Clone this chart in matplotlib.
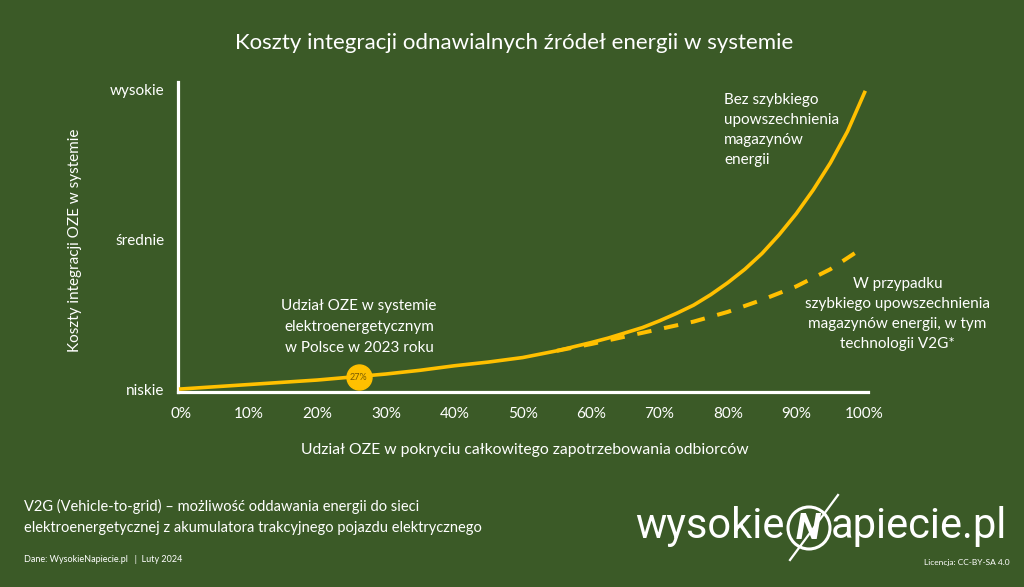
import matplotlib
matplotlib.use("Agg")
import matplotlib.pyplot as plt
from matplotlib.patches import Ellipse
from matplotlib.lines import Line2D

BG = "#3B5A27"
GOLD = "#FFC000"
plt.rcParams["font.family"] = ["Lato", "DejaVu Sans"]

# udział OZE (%) i względny koszt integracji (0 = niskie, 1 = średnie, 2 = wysokie)
share = [0, 5, 10, 15, 20, 25, 30, 35, 40, 45, 50, 55, 60, 62.5, 65, 67.5, 70, 72.5,
         75, 77.5, 80, 82.5, 85, 87.5, 90, 92.5, 95, 97.5, 100]
cost_no_storage = [0, 0.015, 0.03, 0.045, 0.06, 0.08, 0.10, 0.125, 0.155, 0.18, 0.21,
                   0.255, 0.31, 0.34, 0.375, 0.41, 0.455, 0.505, 0.56, 0.63, 0.71, 0.80,
                   0.905, 1.03, 1.17, 1.33, 1.51, 1.72, 1.98]
share_storage = [55, 60, 65, 70, 75, 80, 85, 90, 95, 100]
cost_storage = [0.255, 0.30, 0.35, 0.40, 0.45, 0.515, 0.595, 0.685, 0.80, 0.95]

marker_share = 26
marker_cost = 0.08
marker_label = "27%"

x_ticks = [0, 10, 20, 30, 40, 50, 60, 70, 80, 90, 100]
y_ticks = [0, 1, 2]
y_labels = ["niskie", "średnie", "wysokie"]

W, H = 1024, 587


def px(x, y):
    return x / W, 1 - y / H


fig = plt.figure(figsize=(W / 100, H / 100), dpi=100, facecolor=BG)
ax = fig.add_axes([178 / W, 1 - 392 / H, 690 / W, 310 / H])
ax.set_facecolor(BG)

ax.plot(share, cost_no_storage, color=GOLD, lw=2.6, solid_joinstyle="round", zorder=3)
ax.plot(share_storage, cost_storage, color=GOLD, lw=2.9, dashes=(3.6, 3.2), zorder=3)
ax.plot(marker_share, marker_cost, "o", color=GOLD, ms=18, zorder=4)
ax.text(marker_share, marker_cost, marker_label, color="#7A5C00", fontsize=6.5,
        ha="center", va="center", zorder=5)

ax.set_xlim(-0.4, 100.5)
ax.set_ylim(-0.02, 2.05)
ax.set_xticks(x_ticks)
ax.set_xticklabels([f"{v}%" for v in x_ticks])
ax.set_yticks(y_ticks)
ax.set_yticklabels(y_labels)
ax.tick_params(length=0, colors="white", labelsize=11)
ax.tick_params(axis="x", pad=11)
ax.tick_params(axis="y", pad=10)
for s in ["top", "right"]:
    ax.spines[s].set_visible(False)
for s in ["left", "bottom"]:
    ax.spines[s].set_color("white")
    ax.spines[s].set_linewidth(2.3)

# teksty
fig.text(*px(514, 43), "Koszty integracji odnawialnych źródeł energii w systemie",
         color="white", fontsize=16, ha="center", va="center")
fig.text(*px(75, 240), "Koszty integracji OZE w systemie", color="white", fontsize=11,
         rotation=90, ha="center", va="center")
fig.text(*px(525, 450), "Udział OZE w pokryciu całkowitego zapotrzebowania odbiorców",
         color="white", fontsize=11.3, ha="center", va="center")
fig.text(*px(359, 327), "Udział OZE w systemie\nelektroenergetycznym\nw Polsce w 2023 roku",
         color="white", fontsize=11, ha="center", va="center", linespacing=1.6)
fig.text(*px(724, 93), "Bez szybkiego\nupowszechnienia\nmagazynów\nenergii",
         color="white", fontsize=11, ha="left", va="top", linespacing=1.55)
fig.text(*px(990, 314),
         "W przypadku\nszybkiego upowszechnienia\nmagazynów energii, w tym\ntechnologii V2G*",
         color="white", fontsize=11, ha="right", va="center", linespacing=1.55,
         multialignment="center")

fig.text(*px(24, 517), "V2G (Vehicle-to-grid) – możliwość oddawania energii do sieci\n"
         "elektroenergetycznej z akumulatora trakcyjnego pojazdu elektrycznego",
         color="white", fontsize=10.5, ha="left", va="center", linespacing=1.6)
fig.text(*px(24, 559), "Dane: WysokieNapiecie.pl   |  Luty 2024", color="white",
         fontsize=6.5, ha="left", va="center")
fig.text(*px(1010, 563), "Licencja: CC-BY-SA 4.0", color="white", fontsize=6,
         ha="right", va="center")

# logo
fig.text(*px(785, 538), "wysokie", color="white", fontsize=30, family="Roboto",
         ha="right", va="baseline")
fig.text(*px(831, 538), "apiecie.pl", color="white", fontsize=30, family="Roboto",
         ha="left", va="baseline")
fig.patches.append(Ellipse(px(809, 528), 42 / W, 42 / H, transform=fig.transFigure,
                           fill=False, ec="white", lw=2.2))
fig.text(*px(808, 529), "N", color="white", fontsize=26, family="Roboto",
         fontweight="bold", style="italic", ha="center", va="center")
fig.lines.append(Line2D([838 / W, 790 / W], [1 - 495 / H, 1 - 560 / H],
                        transform=fig.transFigure, color="white", lw=1.6))

fig.savefig("out.png", dpi=100, facecolor=BG)
